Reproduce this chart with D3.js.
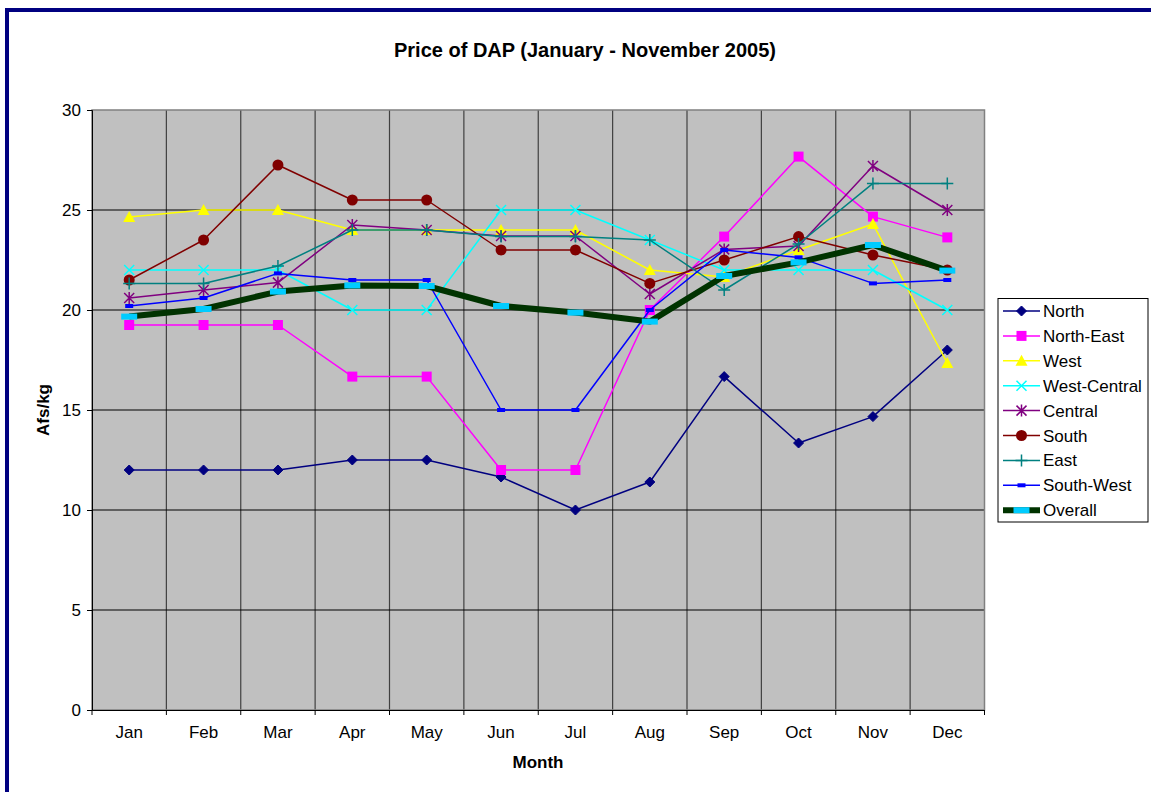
<!DOCTYPE html>
<html><head><meta charset="utf-8">
<script src="https://cdn.jsdelivr.net/npm/d3@7"></script>
<style>body{margin:0;background:#fff;}svg{display:block;font-family:"Liberation Sans",Arial,sans-serif;}</style>
</head><body><svg id="c" width="1151" height="792"></svg>
<script>
const months = ["Jan","Feb","Mar","Apr","May","Jun","Jul","Aug","Sep","Oct","Nov","Dec"];
const yTicks = [0,5,10,15,20,25,30];
const north      = [12,12,12,12.5,12.5,11.65,10,11.4,16.67,13.35,14.67,18];
const northEast  = [19.25,19.25,19.25,16.67,16.67,12,12,20,23.67,27.67,24.67,23.63];
const west       = [24.65,25,25,24,24,24,24,22,21.65,23,24.3,17.35];
const westCentral= [22,22,22,20,20,25,25,23.5,22,22,22,20];
const central    = [20.6,21,21.37,24.25,24,23.7,23.7,20.8,23.03,23.2,27.2,25];
const south      = [21.5,23.5,27.25,25.5,25.5,23,23,21.33,22.5,23.67,22.75,22];
const east       = [21.33,21.33,22.2,24,24,23.67,23.67,23.5,21,23.3,26.33,26.33];
const southWest  = [20.2,20.6,21.83,21.5,21.5,15,15,20,23,22.63,21.33,21.5];
const overall    = [19.67,20.05,20.92,21.23,21.2,20.2,19.87,19.42,21.7,22.38,23.25,21.97];
const seriesNames = ["North","North-East","West","West-Central","Central","South","East","South-West","Overall"];

const series = [
  {name:seriesNames[0], values:north, color:"#000080", marker:"diamond", w:1.5},
  {name:seriesNames[1], values:northEast, color:"#FF00FF", marker:"square", w:1.5},
  {name:seriesNames[2], values:west, color:"#FFFF00", marker:"triangle", w:1.5},
  {name:seriesNames[3], values:westCentral, color:"#00FFFF", marker:"x", w:1.5},
  {name:seriesNames[4], values:central, color:"#800080", marker:"star", w:1.5},
  {name:seriesNames[5], values:south, color:"#800000", marker:"circle", w:1.5},
  {name:seriesNames[6], values:east, color:"#008080", marker:"plus", w:1.5},
  {name:seriesNames[7], values:southWest, color:"#0000FF", marker:"dash", w:1.5},
  {name:seriesNames[8], values:overall, color:"#003300", marker:"bigdash", w:6}
];

const FONT = "'Liberation Sans', Arial, sans-serif";
const svg = d3.select("#c");
const L=92, R=984.5, T=110, B=710;
const x = d3.scaleBand().domain(months).range([L,R]);
const y = d3.scaleLinear().domain([0,30]).range([B,T]);

// border
svg.append("rect").attr("x",7).attr("y",10).attr("width",1160).attr("height",800)
  .attr("fill","none").attr("stroke","#000080").attr("stroke-width",4);

// plot area
svg.append("rect").attr("x",L).attr("y",T).attr("width",R-L).attr("height",B-T).attr("fill","#C0C0C0");
svg.append("g").selectAll("line").data(months.slice(1)).join("line")
  .attr("x1",d=>x(d)).attr("x2",d=>x(d)).attr("y1",T).attr("y2",B)
  .attr("stroke","#404040").attr("stroke-width",1.2);
svg.append("g").selectAll("line").data(yTicks.filter(t=>t>0 && t<30)).join("line")
  .attr("x1",L).attr("x2",R).attr("y1",d=>y(d)).attr("y2",d=>y(d))
  .attr("stroke","#000").attr("stroke-width",1);
svg.append("rect").attr("x",L).attr("y",T).attr("width",R-L).attr("height",B-T)
  .attr("fill","none").attr("stroke","#808080").attr("stroke-width",1.5);

// y axis
const ya = svg.append("g").attr("transform",`translate(${L},0)`)
  .call(d3.axisLeft(y).tickValues(yTicks).tickSize(5).tickPadding(6));
ya.select(".domain").attr("stroke","#000");
ya.selectAll("text").attr("font-size",17).attr("font-family",FONT).attr("fill","#000");
// x axis
const xa = svg.append("g").attr("transform",`translate(0,${B})`)
  .call(d3.axisBottom(x).tickSize(0).tickPadding(16));
xa.select(".domain").attr("stroke","#000");
xa.selectAll("text").attr("font-size",17).attr("font-family",FONT).attr("fill","#000");
svg.append("g").selectAll("line").data(months.concat(["__end"])).join("line")
  .attr("x1",(d,i)=> i<12 ? x(d) : R).attr("x2",(d,i)=> i<12 ? x(d) : R)
  .attr("y1",B).attr("y2",B+5).attr("stroke","#000");

// titles
svg.append("text").attr("x",585).attr("y",57).attr("text-anchor","middle").attr("font-family",FONT)
  .attr("font-size",20).attr("font-weight","bold").text("Price of DAP (January - November 2005)");
svg.append("text").attr("x",538).attr("y",768).attr("text-anchor","middle").attr("font-family",FONT)
  .attr("font-size",17).attr("font-weight","bold").text("Month");
svg.append("text").attr("transform","translate(49,410) rotate(-90)").attr("text-anchor","middle").attr("font-family",FONT)
  .attr("font-size",17).attr("font-weight","bold").text("Afs/kg");

function drawMarker(g, type, color, cx, cy){
  switch(type){
    case "diamond": g.append("path").attr("d",`M${cx},${cy-5}L${cx+5},${cy}L${cx},${cy+5}L${cx-5},${cy}Z`).attr("fill",color).attr("stroke",color); break;
    case "square": g.append("rect").attr("x",cx-5).attr("y",cy-5).attr("width",10).attr("height",10).attr("fill",color); break;
    case "triangle": g.append("path").attr("d",`M${cx},${cy-6}L${cx+6},${cy+5}L${cx-6},${cy+5}Z`).attr("fill",color); break;
    case "x": g.append("path").attr("d",`M${cx-5},${cy-5}L${cx+5},${cy+5}M${cx-5},${cy+5}L${cx+5},${cy-5}`).attr("stroke",color).attr("stroke-width",1.5); break;
    case "star": g.append("path").attr("d",`M${cx-5},${cy-5}L${cx+5},${cy+5}M${cx-5},${cy+5}L${cx+5},${cy-5}M${cx},${cy-6}L${cx},${cy+6}`).attr("stroke",color).attr("stroke-width",1.5); break;
    case "circle": g.append("circle").attr("cx",cx).attr("cy",cy).attr("r",5.5).attr("fill",color); break;
    case "plus": g.append("path").attr("d",`M${cx-6},${cy}L${cx+6},${cy}M${cx},${cy-6}L${cx},${cy+6}`).attr("stroke",color).attr("stroke-width",1.5); break;
    case "dash": g.append("rect").attr("x",cx-4).attr("y",cy-2).attr("width",8).attr("height",4).attr("fill",color); break;
    case "bigdash": g.append("rect").attr("x",cx-8).attr("y",cy-3).attr("width",16).attr("height",6).attr("fill","#00CCFF"); break;
  }
}

const cx = d => x(d)+x.bandwidth()/2;
const line = d3.line().x((v,i)=>cx(months[i])).y(v=>y(v));
series.forEach(s=>{
  const g = svg.append("g");
  g.append("path").attr("d",line(s.values)).attr("fill","none").attr("stroke",s.color)
    .attr("stroke-width",s.w).attr("stroke-linejoin","round");
  s.values.forEach((v,i)=>drawMarker(g,s.marker,s.color,cx(months[i]),y(v)));
});

// legend
const lg = svg.append("g");
lg.append("rect").attr("x",998).attr("y",298.5).attr("width",150).attr("height",223.5)
  .attr("fill","#fff").attr("stroke","#000").attr("stroke-width",1);
series.forEach((s,i)=>{
  const yy = 311 + i*24.9;
  lg.append("line").attr("x1",1003).attr("x2",1040).attr("y1",yy).attr("y2",yy)
    .attr("stroke",s.color).attr("stroke-width",s.w);
  drawMarker(lg,s.marker,s.color,1021.5,yy);
  lg.append("text").attr("x",1043).attr("y",yy+6).attr("font-size",17).attr("font-family",FONT).text(s.name);
});
</script></body></html>
